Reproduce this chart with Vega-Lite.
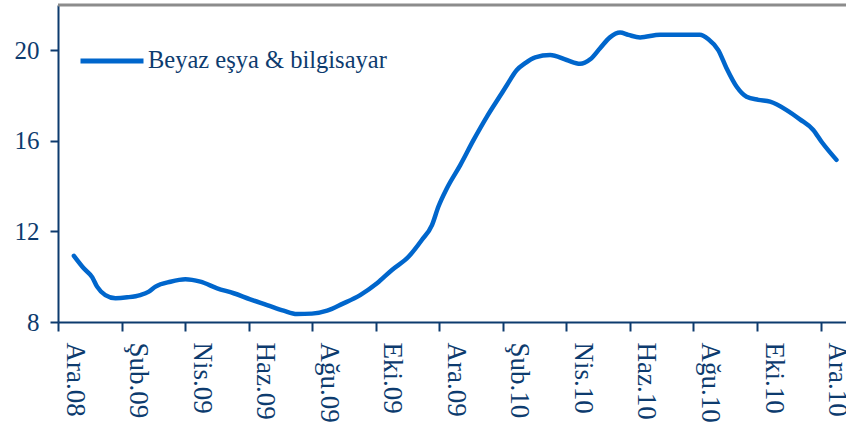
{
  "$schema": "https://vega.github.io/schema/vega-lite/v6.json",
  "width": 788,
  "height": 317,
  "autosize": {"type": "none"},
  "padding": {"left": 58, "top": 5, "right": 0, "bottom": 115},
  "background": "white",
  "config": {"view": {"stroke": null}, "font": "Liberation Serif"},
  "layer": [
    {
      "data": {"values": [{"deger": 22}]},
      "mark": {"type": "rule", "color": "#8c8c8c", "strokeWidth": 3},
      "encoding": {
        "y": {
          "field": "deger",
          "type": "quantitative",
          "scale": {"domain": [8, 22], "nice": false, "zero": false},
          "axis": {
            "title": null,
            "values": [8, 12, 16, 20],
            "labelFont": "Liberation Serif",
            "labelFontSize": 25,
            "labelColor": "#0d3b6e",
            "labelPadding": 11,
            "labelFlush": false,
            "grid": false,
            "domainColor": "#0d3b6e",
            "domainWidth": 2,
            "tickColor": "#0d3b6e",
            "tickWidth": 2,
            "tickSize": 8
          }
        }
      }
    },
    {
      "data": {
        "values": [
          {"ay": 0.5, "deger": 10.92, "seri": "Beyaz eşya & bilgisayar"},
          {"ay": 0.81, "deger": 10.37, "seri": "Beyaz eşya & bilgisayar"},
          {"ay": 1.08, "deger": 9.97, "seri": "Beyaz eşya & bilgisayar"},
          {"ay": 1.23, "deger": 9.56, "seri": "Beyaz eşya & bilgisayar"},
          {"ay": 1.49, "deger": 9.19, "seri": "Beyaz eşya & bilgisayar"},
          {"ay": 1.81, "deger": 9.05, "seri": "Beyaz eşya & bilgisayar"},
          {"ay": 2.18, "deger": 9.09, "seri": "Beyaz eşya & bilgisayar"},
          {"ay": 2.59, "deger": 9.19, "seri": "Beyaz eşya & bilgisayar"},
          {"ay": 2.86, "deger": 9.34, "seri": "Beyaz eşya & bilgisayar"},
          {"ay": 3.07, "deger": 9.56, "seri": "Beyaz eşya & bilgisayar"},
          {"ay": 3.54, "deger": 9.78, "seri": "Beyaz eşya & bilgisayar"},
          {"ay": 4.01, "deger": 9.89, "seri": "Beyaz eşya & bilgisayar"},
          {"ay": 4.48, "deger": 9.78, "seri": "Beyaz eşya & bilgisayar"},
          {"ay": 5.01, "deger": 9.49, "seri": "Beyaz eşya & bilgisayar"},
          {"ay": 5.53, "deger": 9.27, "seri": "Beyaz eşya & bilgisayar"},
          {"ay": 6.05, "deger": 9.0, "seri": "Beyaz eşya & bilgisayar"},
          {"ay": 6.58, "deger": 8.75, "seri": "Beyaz eşya & bilgisayar"},
          {"ay": 7.1, "deger": 8.5, "seri": "Beyaz eşya & bilgisayar"},
          {"ay": 7.52, "deger": 8.35, "seri": "Beyaz eşya & bilgisayar"},
          {"ay": 7.99, "deger": 8.37, "seri": "Beyaz eşya & bilgisayar"},
          {"ay": 8.47, "deger": 8.5, "seri": "Beyaz eşya & bilgisayar"},
          {"ay": 8.95, "deger": 8.8, "seri": "Beyaz eşya & bilgisayar"},
          {"ay": 9.51, "deger": 9.19, "seri": "Beyaz eşya & bilgisayar"},
          {"ay": 10.04, "deger": 9.71, "seri": "Beyaz eşya & bilgisayar"},
          {"ay": 10.51, "deger": 10.3, "seri": "Beyaz eşya & bilgisayar"},
          {"ay": 11.03, "deger": 10.88, "seri": "Beyaz eşya & bilgisayar"},
          {"ay": 11.45, "deger": 11.62, "seri": "Beyaz eşya & bilgisayar"},
          {"ay": 11.77, "deger": 12.28, "seri": "Beyaz eşya & bilgisayar"},
          {"ay": 11.97, "deger": 13.09, "seri": "Beyaz eşya & bilgisayar"},
          {"ay": 12.24, "deger": 13.91, "seri": "Beyaz eşya & bilgisayar"},
          {"ay": 12.66, "deger": 14.93, "seri": "Beyaz eşya & bilgisayar"},
          {"ay": 13.08, "deger": 16.04, "seri": "Beyaz eşya & bilgisayar"},
          {"ay": 13.5, "deger": 17.07, "seri": "Beyaz eşya & bilgisayar"},
          {"ay": 13.92, "deger": 18.0, "seri": "Beyaz eşya & bilgisayar"},
          {"ay": 14.13, "deger": 18.47, "seri": "Beyaz eşya & bilgisayar"},
          {"ay": 14.44, "deger": 19.13, "seri": "Beyaz eşya & bilgisayar"},
          {"ay": 14.7, "deger": 19.43, "seri": "Beyaz eşya & bilgisayar"},
          {"ay": 15.02, "deger": 19.69, "seri": "Beyaz eşya & bilgisayar"},
          {"ay": 15.49, "deger": 19.79, "seri": "Beyaz eşya & bilgisayar"},
          {"ay": 16.01, "deger": 19.57, "seri": "Beyaz eşya & bilgisayar"},
          {"ay": 16.43, "deger": 19.4, "seri": "Beyaz eşya & bilgisayar"},
          {"ay": 16.75, "deger": 19.6, "seri": "Beyaz eşya & bilgisayar"},
          {"ay": 17.06, "deger": 20.09, "seri": "Beyaz eşya & bilgisayar"},
          {"ay": 17.37, "deger": 20.57, "seri": "Beyaz eşya & bilgisayar"},
          {"ay": 17.69, "deger": 20.78, "seri": "Beyaz eşya & bilgisayar"},
          {"ay": 17.95, "deger": 20.68, "seri": "Beyaz eşya & bilgisayar"},
          {"ay": 18.32, "deger": 20.57, "seri": "Beyaz eşya & bilgisayar"},
          {"ay": 18.95, "deger": 20.69, "seri": "Beyaz eşya & bilgisayar"},
          {"ay": 19.47, "deger": 20.69, "seri": "Beyaz eşya & bilgisayar"},
          {"ay": 20.2, "deger": 20.69, "seri": "Beyaz eşya & bilgisayar"},
          {"ay": 20.47, "deger": 20.49, "seri": "Beyaz eşya & bilgisayar"},
          {"ay": 20.78, "deger": 20.01, "seri": "Beyaz eşya & bilgisayar"},
          {"ay": 21.04, "deger": 19.21, "seri": "Beyaz eşya & bilgisayar"},
          {"ay": 21.36, "deger": 18.39, "seri": "Beyaz eşya & bilgisayar"},
          {"ay": 21.67, "deger": 17.95, "seri": "Beyaz eşya & bilgisayar"},
          {"ay": 22.04, "deger": 17.81, "seri": "Beyaz eşya & bilgisayar"},
          {"ay": 22.41, "deger": 17.73, "seri": "Beyaz eşya & bilgisayar"},
          {"ay": 22.93, "deger": 17.36, "seri": "Beyaz eşya & bilgisayar"},
          {"ay": 23.35, "deger": 16.95, "seri": "Beyaz eşya & bilgisayar"},
          {"ay": 23.77, "deger": 16.48, "seri": "Beyaz eşya & bilgisayar"},
          {"ay": 24.03, "deger": 15.96, "seri": "Beyaz eşya & bilgisayar"},
          {"ay": 24.5, "deger": 15.16, "seri": "Beyaz eşya & bilgisayar"}
        ]
      },
      "mark": {"type": "line", "interpolate": "monotone", "strokeWidth": 4.5, "strokeCap": "round", "strokeJoin": "round"},
      "encoding": {
        "x": {
          "field": "ay",
          "type": "quantitative",
          "scale": {"domain": [0, 24.8], "nice": false, "zero": false},
          "axis": {
            "title": null,
            "values": [0, 2, 4, 6, 8, 10, 12, 14, 16, 18, 20, 22, 24],
            "labelExpr": "['Ara.08','Şub.09','Nis.09','Haz.09','Ağu.09','Eki.09','Ara.09','Şub.10','Nis.10','Haz.10','Ağu.10','Eki.10','Ara.10'][round(datum.value/2)]",
            "labelAngle": 90,
            "labelAlign": "left",
            "labelBaseline": "alphabetic",
            "labelOffset": 8,
            "labelPadding": 11,
            "labelFont": "Liberation Serif",
            "labelFontSize": 27,
            "labelColor": "#0d3b6e",
            "labelFlush": false,
            "labelOverlap": false,
            "labelBound": false,
            "grid": false,
            "domainColor": "#0d3b6e",
            "domainWidth": 2,
            "tickColor": "#0d3b6e",
            "tickWidth": 2,
            "tickSize": 9
          }
        },
        "y": {
          "field": "deger",
          "type": "quantitative",
          "scale": {"domain": [8, 22], "nice": false, "zero": false},
          "axis": {
            "title": null,
            "values": [8, 12, 16, 20],
            "labelFont": "Liberation Serif",
            "labelFontSize": 25,
            "labelColor": "#0d3b6e",
            "labelPadding": 11,
            "labelFlush": false,
            "grid": false,
            "domainColor": "#0d3b6e",
            "domainWidth": 2,
            "tickColor": "#0d3b6e",
            "tickWidth": 2,
            "tickSize": 8
          }
        },
        "color": {
          "field": "seri",
          "type": "nominal",
          "scale": {"range": ["#0066cc"]},
          "legend": {
            "title": null,
            "orient": "none",
            "legendX": 20,
            "legendY": 22,
            "padding": 0,
            "symbolType": "stroke",
            "symbolSize": 3969,
            "symbolStrokeWidth": 5,
            "labelFont": "Liberation Serif",
            "labelFontSize": 24.5,
            "labelColor": "#0d3b6e",
            "labelOffset": 2,
            "labelLimit": 0
          }
        }
      }
    }
  ]
}
